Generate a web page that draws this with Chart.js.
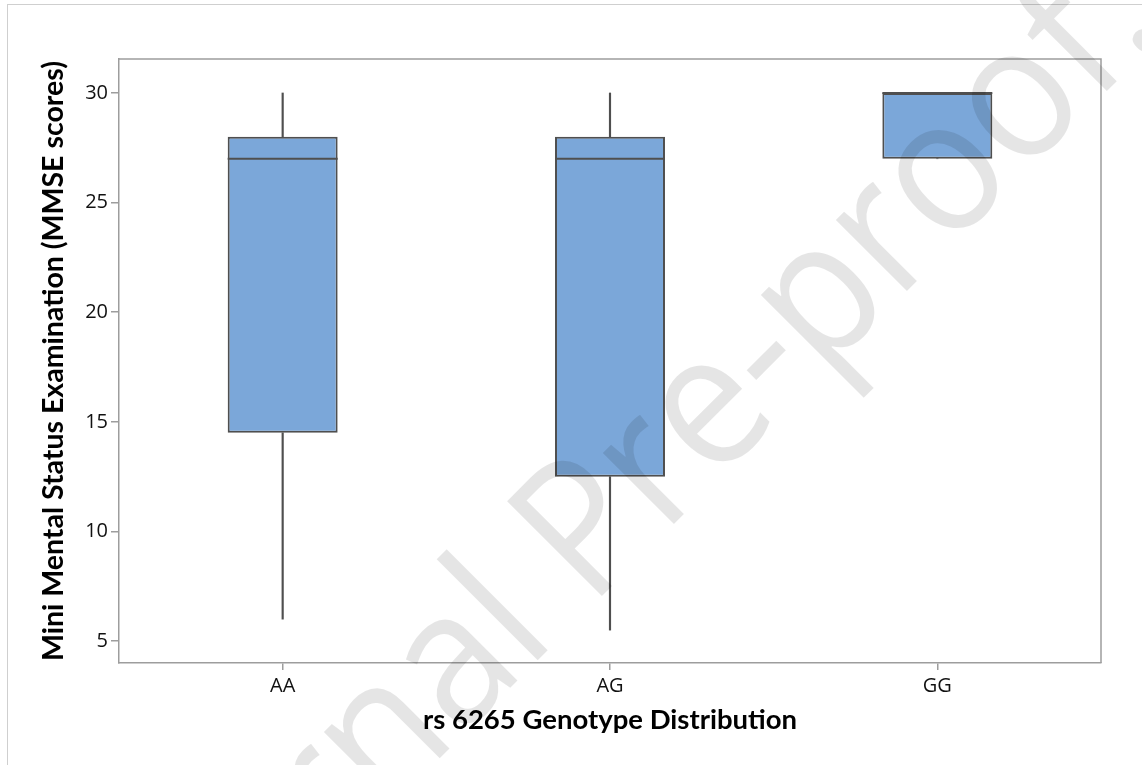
<!DOCTYPE html>
<html>
<head>
<meta charset="utf-8">
<script src="https://cdn.jsdelivr.net/npm/chart.js@4.4.1/dist/chart.umd.min.js"></script>
<style>
html, body { margin: 0; padding: 0; background: #fff; }
#wrap { position: relative; width: 1142px; height: 765px; overflow: hidden; }
#frame { position: absolute; left: 7px; top: 4px; width: 1200px; height: 800px; border-top: 1.5px solid #cfcfcf; border-left: 1.5px solid #cfcfcf; }
canvas { position: absolute; left: 0; top: 0; }
</style>
</head>
<body>
<div id="wrap"><div id="frame"></div><canvas id="chart" width="1142" height="765"></canvas></div>
<script>
const genotypes = ['AA', 'AG', 'GG'];
const whiskerLow = [6, 5.5, 27];
const q1 = [14.5, 12.5, 27];
const medians = [27, 27, 30];
const q3 = [28, 28, 30];
const whiskerHigh = [30, 30, 30];
const yTicks = [5, 10, 15, 20, 25, 30];

const boxFill = '#7ba7d9';
const boxLine = '#4f4f4f';
const axisGray = '#9d9d9d';

// median lines + top/right frame of the plot area
const boxExtras = {
    id: 'boxExtras',
    afterDatasetsDraw(chart) {
        const { ctx, scales: { x, y } } = chart;
        const boxes = chart.getDatasetMeta(0).data;
        ctx.save();
        ctx.strokeStyle = boxLine;
        ctx.lineWidth = 2;
        medians.forEach((m, i) => {
            const half = boxes[i].width / 2;
            const px = x.getPixelForValue(i);
            const py = y.getPixelForValue(m);
            ctx.beginPath();
            ctx.moveTo(px - half, py);
            ctx.lineTo(px + half, py);
            ctx.stroke();
        });
        ctx.restore();
    },
    afterDraw(chart) {
        const { ctx, chartArea: a } = chart;
        ctx.save();
        ctx.strokeStyle = axisGray;
        ctx.lineWidth = 1.5;
        ctx.beginPath();
        ctx.moveTo(a.left, a.top);
        ctx.lineTo(a.right, a.top);
        ctx.lineTo(a.right, a.bottom);
        ctx.stroke();

        // "Journal Pre-proof." watermark
        ctx.font = '188px "Open Sans"';
        ctx.fillStyle = 'rgba(0,0,0,0.1)';
        const squeeze = 0.92;
        const lead = ctx.measureText('Journal ').width * squeeze;
        const ang = Math.PI / 4;
        ctx.translate(590 - lead * Math.cos(ang), 608 + lead * Math.sin(ang));
        ctx.rotate(-ang);
        ctx.scale(squeeze, 1);
        ctx.textBaseline = 'alphabetic';
        ctx.fillText('Journal Pre-proof.', 0, 0);
        ctx.restore();
    }
};

new Chart(document.getElementById('chart'), {
    type: 'bar',
    data: {
        labels: genotypes,
        datasets: [
            {
                data: q1.map((v, i) => [v, q3[i]]),
                backgroundColor: boxFill,
                borderColor: boxLine,
                borderWidth: 2,
                borderSkipped: false,
                grouped: false,
                categoryPercentage: 1,
                barPercentage: 0.336
            },
            {
                data: whiskerLow.map((v, i) => [v, q1[i]]),
                backgroundColor: boxLine,
                borderWidth: 0,
                grouped: false,
                barThickness: 1.5
            },
            {
                data: q3.map((v, i) => [v, whiskerHigh[i]]),
                backgroundColor: boxLine,
                borderWidth: 0,
                grouped: false,
                barThickness: 1.5
            }
        ]
    },
    options: {
        responsive: false,
        animation: false,
        layout: { padding: { top: 59, right: 41, left: 0, bottom: 0 } },
        plugins: { legend: { display: false }, tooltip: { enabled: false } },
        scales: {
            x: {
                grid: { offset: false, drawOnChartArea: false, tickLength: 7, color: axisGray, lineWidth: 1.5 },
                border: { color: axisGray, width: 1.5 },
                ticks: { color: '#111', font: { family: 'Open Sans', size: 20 }, padding: 4 },
                title: {
                    display: true, text: 'rs 6265 Genotype Distribution', color: '#000',
                    font: { family: 'Lato', size: 27.5, weight: 'bold' },
                    padding: { top: 0, bottom: 28 }
                },
                afterFit: s => { s.height = 102; }
            },
            y: {
                min: 4.0,
                max: 31.55,
                afterBuildTicks: s => { s.ticks = yTicks.map(v => ({ value: v })); },
                grid: { drawOnChartArea: false, tickLength: 8, color: axisGray, lineWidth: 1.5 },
                border: { color: axisGray, width: 1.5 },
                ticks: { color: '#111', font: { family: 'Open Sans', size: 20 }, padding: 3 },
                title: {
                    display: true, text: 'Mini Mental Status Examination (MMSE scores)', color: '#000',
                    font: { family: 'Lato', size: 28.5, weight: 'bold' },
                    padding: { top: 37, bottom: 0 }
                },
                afterFit: s => { s.width = 119; }
            }
        }
    },
    plugins: [boxExtras]
});
</script>
</body>
</html>
